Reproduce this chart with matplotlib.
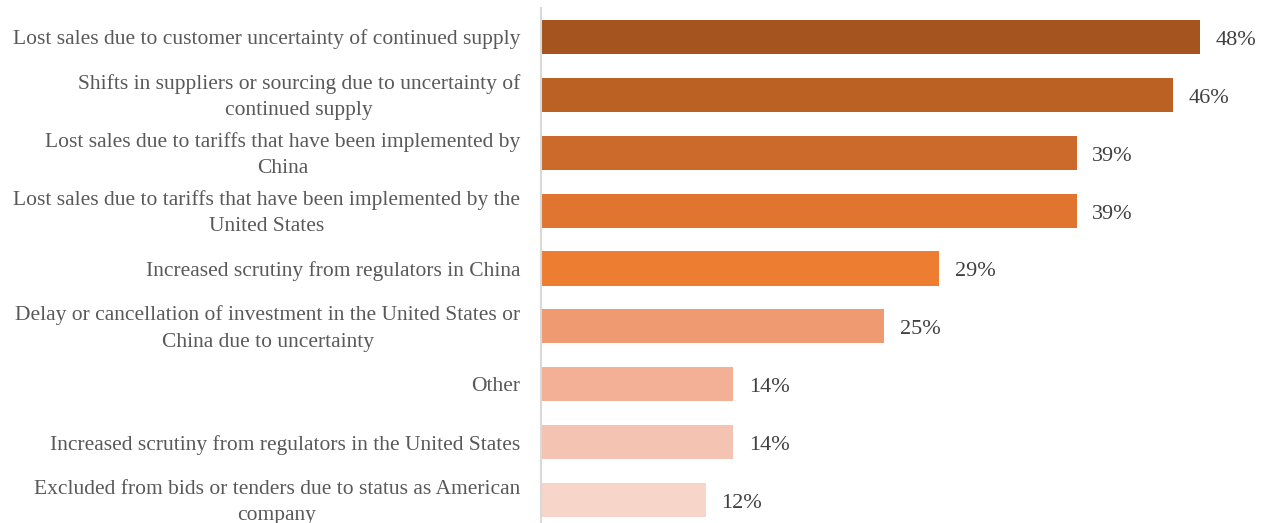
import matplotlib.pyplot as plt
from matplotlib.transforms import ScaledTranslation

categories = [
    "Lost sales due to customer uncertainty of continued supply",
    "Shifts in suppliers or sourcing due to uncertainty of\ncontinued supply",
    "Lost sales due to tariffs that have been implemented by\nChina",
    "Lost sales due to tariffs that have been implemented by the\nUnited States",
    "Increased scrutiny from regulators in China",
    "Delay or cancellation of investment in the United States or\nChina due to uncertainty",
    "Other",
    "Increased scrutiny from regulators in the United States",
    "Excluded from bids or tenders due to status as American\ncompany",
]
values = [48, 46, 39, 39, 29, 25, 14, 14, 12]
bar_colors = ["#A5531F", "#BC6124", "#CB6A2A", "#DF752F", "#ED7D31",
              "#F09A72", "#F3B097", "#F5C3B1", "#F7D5C9"]

plt.rcParams['font.family'] = ['Liberation Serif', 'DejaVu Serif']

W, H = 1265, 523
fig = plt.figure(figsize=(W / 100, H / 100), dpi=100)
ax = fig.add_axes([541 / W, -6 / H, (W - 541) / W, 521 / H])

ypos = range(len(categories))
bars = ax.barh(ypos, values, height=0.59, color=bar_colors)
vlabels = ax.bar_label(bars, labels=[f"{v}%" for v in values], padding=11,
                       fontsize=16, color="#404040")
# nudge value labels down a touch (offset is in points)
for t in vlabels:
    dx, dy = t.xyann
    t.xyann = (dx, dy - 2.5)

ax.set_xlim(0, 52.7)
ax.set_ylim(len(categories) - 0.5, -0.5)
ax.set_yticks(list(ypos))
ax.set_yticklabels(categories, fontsize=15.5, color="#595959",
                   multialignment="center", linespacing=1.55)
ax.tick_params(axis="y", length=0, pad=15)
ax.set_xticks([])

# two-line labels sit a little high against their bar
for lbl in ax.get_yticklabels():
    if "\n" in lbl.get_text():
        lbl.set_transform(lbl.get_transform() + ScaledTranslation(0, 4 / 100, fig.dpi_scale_trans))

for side in ("top", "right", "bottom"):
    ax.spines[side].set_visible(False)
ax.spines["left"].set_color("#D9D9D9")
ax.spines["left"].set_linewidth(1.5)

fig.savefig("out.png", dpi=100)
